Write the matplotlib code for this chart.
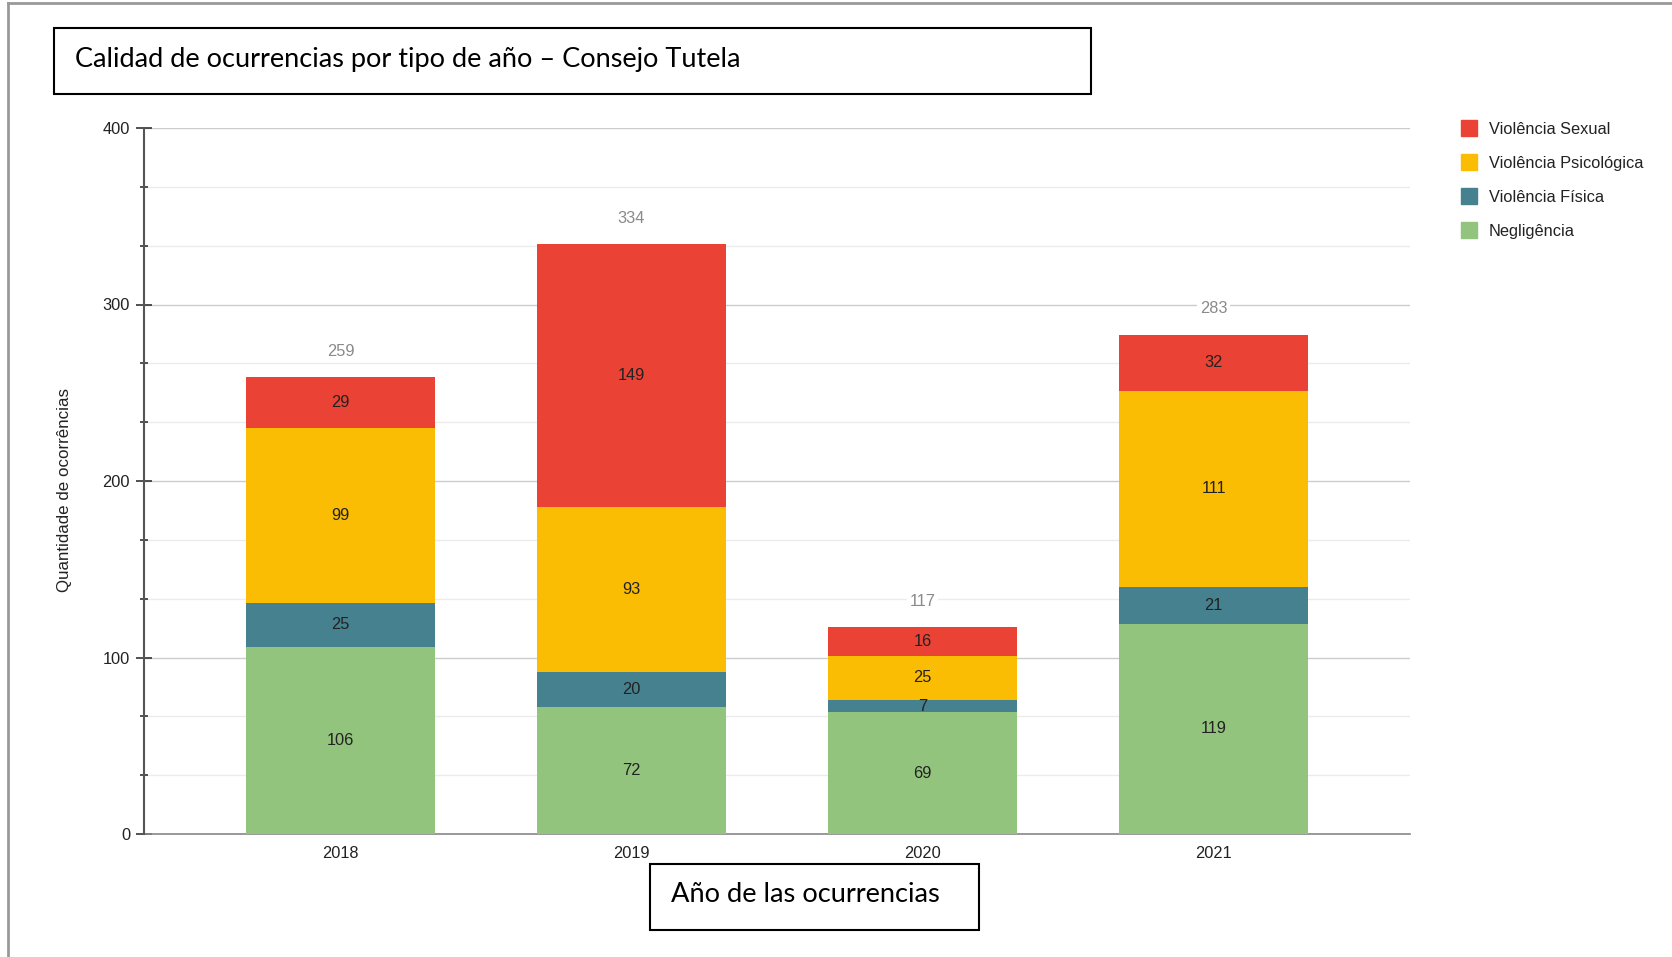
import matplotlib
matplotlib.use("Agg")
import matplotlib.pyplot as plt
from matplotlib.ticker import MultipleLocator
from matplotlib.patches import Rectangle
from matplotlib.lines import Line2D
import numpy as np

years = ["2018", "2019", "2020", "2021"]
series_names = ["Negligência", "Violência Física", "Violência Psicológica", "Violência Sexual"]
negligencia = [106, 72, 69, 119]
fisica = [25, 20, 7, 21]
psicologica = [99, 93, 25, 111]
sexual = [29, 149, 16, 32]
colors = ["#93c47d", "#45818e", "#fbbc04", "#ea4335"]

title_text = "Calidad de ocurrencias por tipo de año – Consejo Tutela"
xlabel_text = "Año de las ocurrencias"
ylabel_text = "Quantidade de ocorrências"

W, H = 1672, 957
fig = plt.figure(figsize=(W / 100, H / 100), dpi=100)
plt.rcParams['font.family'] = ['Liberation Sans', 'DejaVu Sans']
FS = 11.8

def fx(px):
    return px / W

def fy(py):
    return 1 - py / H

ax = fig.add_axes([fx(144), fy(834), fx(1410) - fx(144), fy(128) - fy(834)])

x = np.arange(len(years))
series = [negligencia, fisica, psicologica, sexual]
bottom = np.zeros(len(years))
width = 0.65
for vals, c in zip(series, colors):
    vals = np.array(vals, dtype=float)
    ax.bar(x, vals, width, bottom=bottom, color=c, zorder=3, linewidth=0)
    for xi, b, v in zip(x, bottom, vals):
        ax.text(xi, b + v / 2, f"{int(v)}", ha="center", va="center",
                fontsize=FS, color="#222222", zorder=5)
    bottom += vals

totals = bottom
for xi, t in zip(x, totals):
    ax.annotate(f"{int(t)}", (xi, t), xytext=(0, 13), textcoords="offset points",
                ha="center", va="bottom", fontsize=FS, color="#8a8a8a", zorder=4,
                bbox=dict(boxstyle="square,pad=0.15", fc="white", ec="none"))

ax.set_xlim(-0.675, 3.675)
ax.set_ylim(0, 400)
ax.yaxis.set_major_locator(MultipleLocator(100))
ax.yaxis.set_minor_locator(MultipleLocator(100 / 3))
ax.set_xticks(x)
ax.set_xticklabels(years)
ax.tick_params(axis="x", length=0, pad=9, labelsize=FS, labelcolor="#222222")
ax.tick_params(axis="y", which="major", direction="inout", length=12, width=1.2,
               color="#333333", labelsize=FS, labelcolor="#222222", pad=4)
ax.tick_params(axis="y", which="minor", direction="inout", length=6, width=1.2,
               color="#333333")
ax.grid(axis="y", which="major", color="#cccccc", linewidth=1, zorder=0)
ax.grid(axis="y", which="minor", color="#ebebeb", linewidth=1, zorder=0)
for s in ["top", "right"]:
    ax.spines[s].set_visible(False)
ax.spines["left"].set_color("#555555")
ax.spines["left"].set_linewidth(1.5)
ax.spines["bottom"].set_color("#888888")
ax.spines["bottom"].set_linewidth(1.2)
ax.spines["left"].set_zorder(6)

fig.text(fx(65), fy(490), ylabel_text, rotation=90, ha="center", va="center",
         fontsize=12.2, color="#222222")

# Legend (manual, ordered as reference)
leg_order = [3, 2, 1, 0]
for i, si in enumerate(leg_order):
    cy = 128 + i * 34
    fig.patches.append(Rectangle((fx(1461), fy(cy + 8)), fx(16), fy(cy - 8) - fy(cy + 8),
                                 transform=fig.transFigure, color=colors[si]))
    fig.text(fx(1489), fy(cy + 1.5), series_names[si], ha="left", va="center",
             fontsize=FS, color="#222222")

# Title box
fig.patches.append(Rectangle((fx(54), fy(94)), fx(1091) - fx(54), fy(28) - fy(94),
                             transform=fig.transFigure, fill=False, ec="black", lw=1.5))
fig.text(fx(75), fy(60), title_text, ha="left", va="center", fontsize=19.5,
         family=["Lato", "DejaVu Sans"], color="black")

# X label box
fig.patches.append(Rectangle((fx(650), fy(930)), fx(979) - fx(650), fy(864) - fy(930),
                             transform=fig.transFigure, fill=True, fc="white",
                             ec="black", lw=1.5, zorder=10))
fig.text(fx(671), fy(894), xlabel_text, ha="left", va="center", fontsize=19.6,
         family=["Lato", "DejaVu Sans"], color="black", zorder=11)

# Outer border lines
fig.add_artist(Line2D([fx(8), fx(8)], [0, fy(3)], transform=fig.transFigure,
                      color="#999999", lw=2))
fig.add_artist(Line2D([fx(8), 1], [fy(3), fy(3)], transform=fig.transFigure,
                      color="#999999", lw=2))

fig.savefig("out.png", dpi=100)
